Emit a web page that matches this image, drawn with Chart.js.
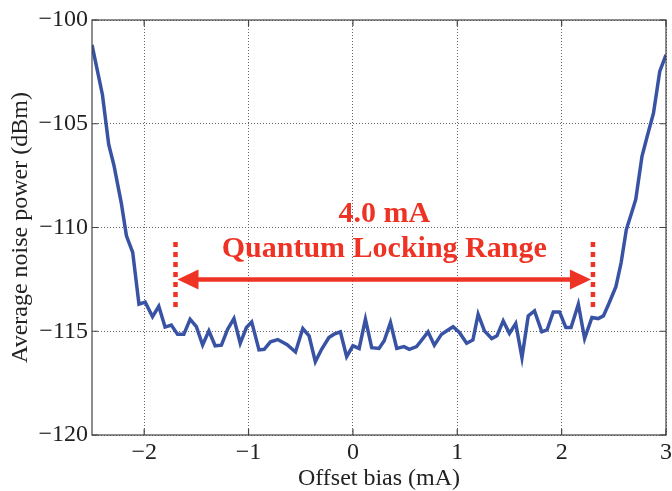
<!DOCTYPE html>
<html>
<head>
<meta charset="utf-8">
<script src="https://cdn.jsdelivr.net/npm/chart.js@4.4.1/dist/chart.umd.min.js"></script>
<style>
  html, body { margin: 0; padding: 0; background: #fff; }
  #wrap { width: 672px; height: 491px; position: relative; }
</style>
</head>
<body>
<div id="wrap"><canvas id="noiseChart"></canvas></div>
<script>
// Offset bias (mA) e potência média de ruído (dBm)
const xValues = [
  -2.50, -2.40, -2.34, -2.29, -2.22, -2.17, -2.11, -2.05, -1.99, -1.92,
  -1.86, -1.80, -1.74, -1.68, -1.62, -1.56, -1.50, -1.44, -1.38, -1.32,
  -1.26, -1.20, -1.14, -1.08, -1.02, -0.97, -0.90, -0.85, -0.79, -0.72,
  -0.63, -0.55, -0.48, -0.42, -0.36, -0.30, -0.23, -0.18, -0.12, -0.06,
   0.00,  0.06,  0.12,  0.18,  0.25,  0.30,  0.36,  0.42,  0.49,  0.54,
   0.61,  0.66,  0.72,  0.78,  0.85,  0.90,  0.96,  1.02,  1.09,  1.15,
   1.20,  1.26,  1.33,  1.38,  1.44,  1.50,  1.56,  1.62,  1.68,  1.74,
   1.81,  1.86,  1.92,  1.98,  2.04,  2.09,  2.16,  2.22,  2.29,  2.35,
   2.40,  2.45,  2.52,  2.57,  2.62,  2.67,  2.71,  2.77,  2.82,  2.88,
   2.94,  3.00
];
const noiseValues = [
  -101.2, -103.6, -106.0, -107.0, -108.8, -110.4, -111.2, -113.7, -113.6, -114.3,
  -113.8, -114.8, -114.7, -115.15, -115.15, -114.42, -114.78, -115.66, -114.98, -115.7,
  -115.67, -114.9, -114.39, -115.58, -114.82, -114.55, -115.9, -115.87, -115.51, -115.4,
  -115.65, -116.0, -114.87, -115.22, -116.47, -115.87, -115.3, -115.14, -115.03, -116.22,
  -115.7, -115.83, -114.42, -115.79, -115.83, -115.46, -114.58, -115.83, -115.74, -115.87,
  -115.74, -115.42, -115.03, -115.67, -115.14, -114.98, -114.78, -115.06, -115.58, -115.42,
  -114.18, -114.98, -115.35, -115.22, -114.5, -115.1, -114.62, -116.27, -114.26, -114.02,
  -115.03, -114.94, -114.07, -114.07, -114.82, -114.82, -113.7, -115.35, -114.34, -114.39,
  -114.26, -113.7, -112.85, -111.7, -110.1, -109.3, -108.65, -106.57, -105.6, -104.49,
  -102.48, -101.68
];
const xTicks = [-2, -1, 0, 1, 2, 3];
const yTicks = [-120, -115, -110, -105, -100];

// Faixa de travamento (anotação)
const lockRange = [-1.7, 2.3];
const lockMarkerY = [-110.7, -113.9];
const lockArrowY = -112.5;
const lockLabels = ['4.0 mA', 'Quantum Locking Range'];
const lockLabelY = [-109.35, -111.05];

const RED = '#EE3224';
const serif = "'Liberation Serif', 'DejaVu Serif', serif";

const minus = v => String(v).replace('-', '\u2212');

// Moldura com marcas de escala para dentro
const framePlugin = {
  id: 'frame',
  afterDatasetsDraw(chart) {
    const { ctx, chartArea: a, scales: { x, y } } = chart;
    ctx.save();
    ctx.strokeStyle = '#444';
    ctx.lineWidth = 1.2;
    ctx.strokeRect(a.left, a.top, a.right - a.left, a.bottom - a.top);
    ctx.beginPath();
    xTicks.forEach(v => {
      const px = x.getPixelForValue(v);
      ctx.moveTo(px, a.bottom); ctx.lineTo(px, a.bottom - 6);
      ctx.moveTo(px, a.top); ctx.lineTo(px, a.top + 6);
    });
    yTicks.forEach(v => {
      const py = y.getPixelForValue(v);
      ctx.moveTo(a.left, py); ctx.lineTo(a.left + 6, py);
      ctx.moveTo(a.right, py); ctx.lineTo(a.right - 6, py);
    });
    ctx.stroke();
    ctx.restore();
  }
};

// Linhas pontilhadas, seta dupla e texto em vermelho
const lockPlugin = {
  id: 'lockRange',
  afterDatasetsDraw(chart) {
    const { ctx, scales: { x, y } } = chart;
    const x1 = x.getPixelForValue(lockRange[0]);
    const x2 = x.getPixelForValue(lockRange[1]);
    const yTop = y.getPixelForValue(lockMarkerY[0]);
    const yBot = y.getPixelForValue(lockMarkerY[1]);
    const ya = y.getPixelForValue(lockArrowY);
    ctx.save();
    ctx.strokeStyle = RED;
    ctx.fillStyle = RED;

    ctx.lineWidth = 4.5;
    ctx.setLineDash([5, 5]);
    [x1, x2].forEach(px => {
      ctx.beginPath();
      ctx.moveTo(px, yTop);
      ctx.lineTo(px, yBot);
      ctx.stroke();
    });
    ctx.setLineDash([]);

    const head = 21, half = 10;
    const l = x1 + 2, r = x2 - 2;
    ctx.lineWidth = 4.5;
    ctx.beginPath();
    ctx.moveTo(l + head - 2, ya);
    ctx.lineTo(r - head + 2, ya);
    ctx.stroke();
    ctx.beginPath();
    ctx.moveTo(l, ya); ctx.lineTo(l + head, ya - half); ctx.lineTo(l + head, ya + half);
    ctx.closePath(); ctx.fill();
    ctx.beginPath();
    ctx.moveTo(r, ya); ctx.lineTo(r - head, ya - half); ctx.lineTo(r - head, ya + half);
    ctx.closePath(); ctx.fill();

    ctx.font = "bold 30px " + serif;
    ctx.textAlign = 'center';
    ctx.textBaseline = 'middle';
    const cx = (x1 + x2) / 2;
    lockLabels.forEach((t, i) => ctx.fillText(t, cx, y.getPixelForValue(lockLabelY[i])));
    ctx.restore();
  }
};

const ctx = document.getElementById('noiseChart').getContext('2d');
new Chart(ctx, {
  type: 'line',
  data: {
    datasets: [{
      data: xValues.map((v, i) => ({ x: v, y: noiseValues[i] })),
      borderColor: '#3953A4',
      borderWidth: 3.5,
      pointRadius: 0,
      tension: 0,
      fill: false
    }]
  },
  options: {
    responsive: true,
    maintainAspectRatio: false,
    animation: false,
    layout: { padding: { left: 0, top: 20, right: 6, bottom: 0 } },
    plugins: {
      legend: { display: false },
      tooltip: { enabled: false }
    },
    scales: {
      x: {
        type: 'linear',
        min: -2.5,
        max: 3,
        afterBuildTicks: s => { s.ticks = xTicks.map(v => ({ value: v })); },
        afterFit: s => { s.height = 56; s.paddingLeft = 0; s.paddingRight = 0; },
        grid: { color: '#666', lineWidth: 1, drawTicks: false },
        border: { display: false, dash: [1, 2] },
        ticks: {
          padding: 3,
          color: '#222',
          font: { family: serif, size: 24 },
          maxRotation: 0,
          callback: v => minus(v)
        },
        title: {
          display: true,
          text: 'Offset bias (mA)',
          color: '#222',
          font: { family: serif, size: 24 },
          padding: { top: 0, bottom: -2 }
        }
      },
      y: {
        min: -120,
        max: -100,
        afterBuildTicks: s => { s.ticks = yTicks.map(v => ({ value: v })); },
        afterFit: s => { s.width = 92; s.paddingTop = 0; s.paddingBottom = 0; },
        grid: { color: '#666', lineWidth: 1, drawTicks: false },
        border: { display: false, dash: [1, 2] },
        ticks: {
          padding: 4,
          color: '#222',
          font: { family: serif, size: 24 },
          callback: v => minus(v)
        },
        title: {
          display: true,
          text: 'Average noise power (dBm)',
          color: '#222',
          font: { family: serif, size: 24 },
          padding: { top: 6, bottom: 0 }
        }
      }
    }
  },
  plugins: [framePlugin, lockPlugin]
});
</script>
</body>
</html>
